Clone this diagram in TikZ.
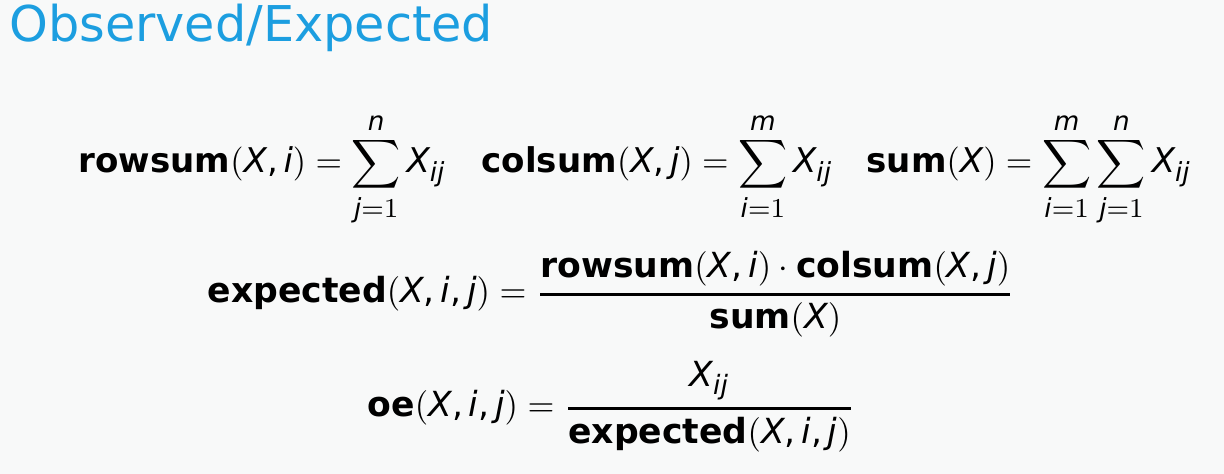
\documentclass[tikz,border=0pt]{standalone}
\usepackage{amsmath}
\usepackage{fontspec}
\setmainfont{DejaVu Sans}
\setsansfont{DejaVu Sans}
\newfontfamily\dvsfam{DejaVu Sans}[NFSSFamily=dvs]
\DeclareSymbolFont{letters}{TU}{dvs}{m}{it}
\DeclareSymbolFont{operators}{TU}{dvs}{m}{n}
\DeclareMathSizes{10}{10}{7.7}{5.5}
\mathcode`\,="602C
\newcommand{\thickfrac}[2]{\genfrac{}{}{0.7pt}{0}{#1}{#2}}
\definecolor{titleblue}{RGB}{28,158,224}
\definecolor{bgcol}{RGB}{248,249,249}
\tikzset{
  eqbase/.style={anchor=base west, inner sep=0pt, font=\fontsize{10}{12}\selectfont},
  eq/.style={eqbase, scale=3.42},
  eqwide/.style={eqbase, scale=3.47},
  ttl/.style={anchor=base west, inner sep=0pt, text=titleblue, font=\fontsize{49.5}{56}\selectfont}
}
\begin{document}
\begin{tikzpicture}[x=1bp,y=1bp]
\fill[bgcol] (0,0) rectangle (1224,-474);
\useasboundingbox (0,0) rectangle (1224,-474);
\node[ttl] (title) at (9,-42) {Observed/Expected};
\node[eq] (rowsum) at (78,-173) {$\displaystyle \textbf{rowsum}(X,i)=\sum_{j=1}^{n}X_{ij}$};
\node[eq] (colsum) at (481,-173) {$\displaystyle \textbf{colsum}(X,j)=\sum_{i=1}^{m}X_{ij}$};
\node[eq] (sum) at (866,-173) {$\displaystyle \textbf{sum}(X)=\sum_{i=1}^{m}\sum_{j=1}^{n}X_{ij}$};
\node[eqwide] (expected) at (207,-303) {$\displaystyle \textbf{expected}(X,i,j)=\thickfrac{\textbf{rowsum}(X,i)\cdot\textbf{colsum}(X,j)}{\textbf{sum}(X)}$};
\node[eqwide] (oe) at (367,-417) {$\displaystyle \textbf{oe}(X,i,j)=\thickfrac{X_{ij}}{\textbf{expected}(X,i,j)}$};
\end{tikzpicture}
\end{document}
